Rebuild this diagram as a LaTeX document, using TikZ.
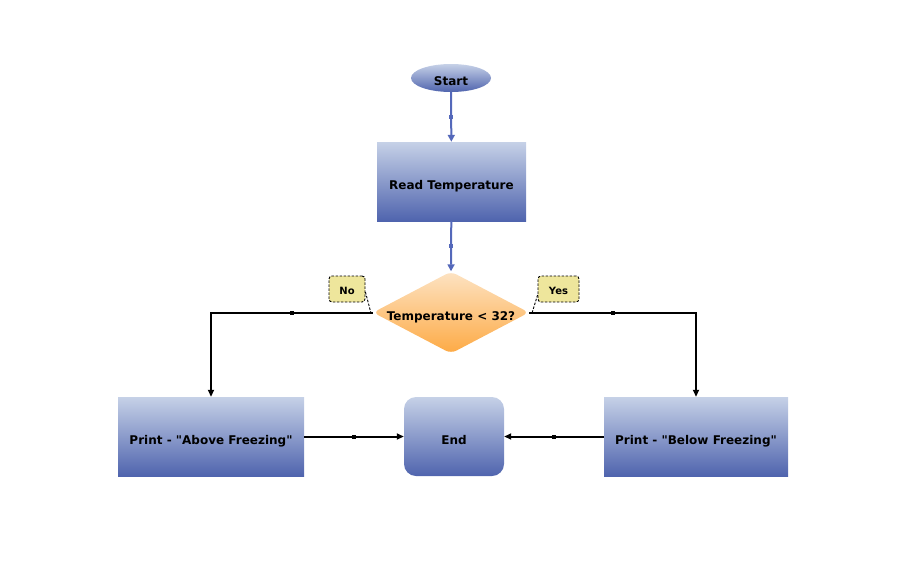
\documentclass[tikz,border=0pt]{standalone}
\usepackage{fontspec}
\setmainfont{DejaVu Sans}
\usetikzlibrary{shapes.geometric,arrows.meta}
\definecolor{btop}{HTML}{C6D1E7}
\definecolor{bbot}{HTML}{4F64AE}
\definecolor{otop}{HTML}{FDE3C3}
\definecolor{obot}{HTML}{FDAA45}
\definecolor{lblfill}{HTML}{EEE69C}
\definecolor{bline}{HTML}{5468BA}
\tikzset{
  x=1pt,y=-1pt,
  mainfont/.style={font=\fontsize{12}{14}\selectfont\bfseries},
  bluebox/.style={draw=none,top color=btop,bottom color=bbot,inner sep=0pt,mainfont,text height=15pt,text depth=0pt},
  rectbox/.style={bluebox,rectangle},
  oval/.style={bluebox,ellipse},
  decision/.style={diamond,draw=none,top color=otop,bottom color=obot,rounded corners=6pt,inner sep=0pt},
  tag/.style={draw=black,dash pattern=on 2.5pt off 1.5pt,line width=0.9pt,fill=lblfill,rounded corners=3pt,inner sep=0pt,font=\fontsize{10}{12}\selectfont\bfseries,text height=11pt,text depth=0pt},
  flowb/.style={draw=bline,line width=2pt,-{Triangle[length=7pt,width=7pt]}},
  flowk/.style={draw=black,line width=2pt,-{Triangle[length=7pt,width=6pt]}},
  mk/.style={fill=#1,rectangle,minimum size=4pt,inner sep=0pt,draw=none},
  tagline/.style={draw=black,dash pattern=on 2.5pt off 1.5pt,line width=0.9pt}
}
\begin{document}
\begin{tikzpicture}
\useasboundingbox (0,0) rectangle (918,570);
\node[oval,minimum width=80pt,minimum height=28pt] (start) at (451,78) {Start};
\node[rectbox,minimum width=149pt,minimum height=79pt] (read) at (451.5,181.5) {Read Temperature};
\node[decision,minimum width=156pt,minimum height=82pt,label={[mainfont,text height=15pt,text depth=0pt]center:Temperature < 32?}] (dec) at (451,312.5) {};
\node[rectbox,minimum width=186pt,minimum height=79pt] (above) at (211,436.5) {Print - \textquotedbl Above Freezing\textquotedbl};
\node[bluebox,rectangle,rounded corners=12pt,minimum width=100pt,minimum height=79pt] (end) at (454,436.5) {End};
\node[rectbox,minimum width=184pt,minimum height=79pt] (below) at (696,436.5) {Print - \textquotedbl Below Freezing\textquotedbl};
\node[tag,minimum width=36pt,minimum height=26pt] (no) at (347,289) {No};
\node[tag,minimum width=41pt,minimum height=26pt] (yes) at (558.5,289) {Yes};
\draw[flowb] (start) -- node[mk=bline,pos=0.5]{} (read);
\draw[flowb] (read) -- node[mk=bline,pos=0.5]{} (dec.north);
\draw[flowk] (dec.west) -| node[mk=black,pos=0.25]{} (above.north);
\draw[flowk] (dec.east) -| node[mk=black,pos=0.25]{} (below.north);
\draw[flowk] (above.east) -- node[mk=black,pos=0.5]{} (end.west);
\draw[flowk] (below.west) -- node[mk=black,pos=0.5]{} (end.east);
\draw[tagline] (no.east) ++(0,3) coordinate (noc) -- ([xshift=-2pt]dec.west);
\draw[tagline] (yes.west) ++(0,6) coordinate (yesc) -- ([xshift=3pt]dec.east);
\end{tikzpicture}
\end{document}
